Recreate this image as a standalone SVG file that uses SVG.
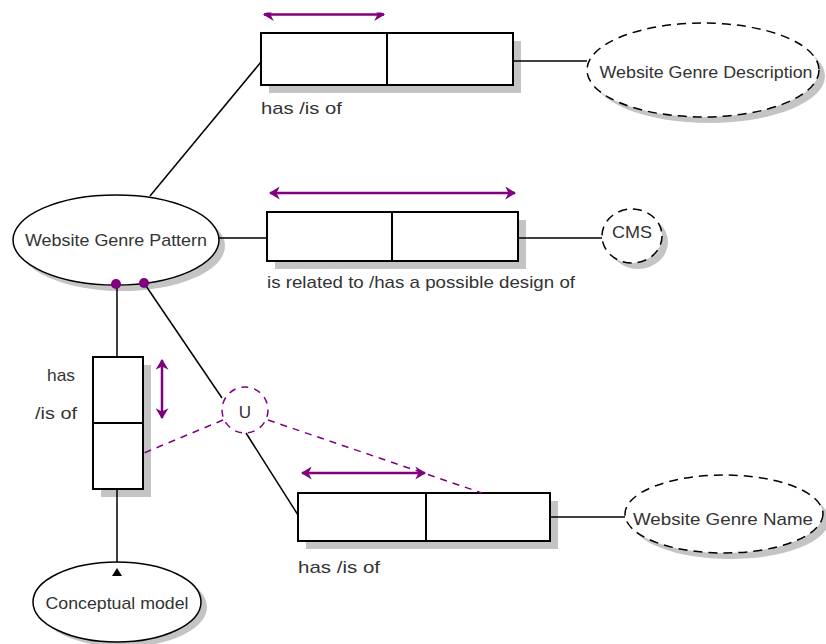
<svg xmlns="http://www.w3.org/2000/svg" width="826" height="644" viewBox="0 0 826 644">
<defs>
<style>
.sh{fill:#c4c4c4;stroke:none}
.box{fill:#fff;stroke:#000;stroke-width:2}
.ent{fill:#fff;stroke:#000;stroke-width:1.5}
.dash{fill:#fff;stroke:#000;stroke-width:1.5;stroke-dasharray:9 6}
.ln{stroke:#000;stroke-width:1.5;fill:none}
.pd{stroke:#800080;stroke-width:1.5;fill:none;stroke-dasharray:7 6}
.arr{stroke:#800080;stroke-width:2.5;fill:none;marker-start:url(#ah);marker-end:url(#ah)}
text{font-family:"Liberation Sans",Arial,sans-serif;font-size:17px;fill:#333}
.c{text-anchor:middle}
.e{text-anchor:end}
</style>
<marker id="ah" viewBox="0 0 10 12" refX="9" refY="6" markerWidth="11" markerHeight="13" markerUnits="userSpaceOnUse" orient="auto-start-reverse">
<path d="M0,0 L10,6 L0,12 L3,6 Z" fill="#800080"/>
</marker>
<clipPath id="topclip"><rect x="0" y="12.5" width="826" height="40"/></clipPath>
</defs>

<g id="rel-description">
<rect class="sh" x="269" y="41" width="252" height="52"/>
<rect class="box" x="261" y="33" width="126" height="52"/>
<rect class="box" x="387" y="33" width="126" height="52"/>
<g clip-path="url(#topclip)"><line class="arr" x1="264" y1="14.5" x2="384" y2="14.5"/></g>
<text x="261" y="114" textLength="81" lengthAdjust="spacingAndGlyphs">has /is of</text>
</g>

<g id="rel-cms">
<rect class="sh" x="275" y="220" width="251" height="49"/>
<rect class="box" x="267" y="212" width="125" height="49"/>
<rect class="box" x="392" y="212" width="126" height="49"/>
<line class="arr" x1="270" y1="193" x2="515" y2="193"/>
<text x="267" y="288" textLength="308" lengthAdjust="spacingAndGlyphs">is related to /has a possible design of</text>
</g>

<g id="rel-conceptual">
<rect class="sh" x="101" y="365" width="50" height="132"/>
<rect class="box" x="93" y="357" width="50" height="66"/>
<rect class="box" x="93" y="423" width="50" height="66"/>
<line class="arr" x1="162" y1="360" x2="162" y2="418"/>
<text class="e" x="75" y="381" textLength="28" lengthAdjust="spacingAndGlyphs">has</text>
<text class="e" x="77" y="419" textLength="42" lengthAdjust="spacingAndGlyphs">/is of</text>
</g>

<g id="rel-name">
<rect class="sh" x="306" y="501" width="252" height="48"/>
<rect class="box" x="298" y="493" width="128" height="48"/>
<rect class="box" x="426" y="493" width="124" height="48"/>
<line class="arr" x1="302" y1="473" x2="425" y2="473"/>
<text x="298" y="573" textLength="82" lengthAdjust="spacingAndGlyphs">has /is of</text>
</g>

<g id="website-genre-pattern">
<ellipse class="sh" cx="122" cy="246" rx="103" ry="45"/>
<ellipse class="ent" cx="116" cy="240" rx="103" ry="45"/>
<text class="c" x="116" y="246" textLength="182" lengthAdjust="spacingAndGlyphs">Website Genre Pattern</text>
</g>

<g id="website-genre-description">
<ellipse class="sh" cx="709" cy="76" rx="116" ry="47"/>
<ellipse class="dash" cx="703" cy="70" rx="116" ry="47"/>
<text class="c" x="706" y="78" textLength="213" lengthAdjust="spacingAndGlyphs">Website Genre Description</text>
</g>

<g id="cms">
<ellipse class="sh" cx="638" cy="242" rx="30" ry="27"/>
<ellipse class="dash" cx="632" cy="236" rx="30" ry="27"/>
<text class="c" x="632" y="238" textLength="40" lengthAdjust="spacingAndGlyphs">CMS</text>
</g>

<g id="website-genre-name">
<ellipse class="sh" cx="730" cy="520" rx="99" ry="39"/>
<ellipse class="dash" cx="724" cy="514" rx="99" ry="39"/>
<text class="c" x="723" y="525" textLength="180" lengthAdjust="spacingAndGlyphs">Website Genre Name</text>
</g>

<g id="conceptual-model">
<ellipse class="sh" cx="123" cy="607" rx="84" ry="40"/>
<ellipse class="ent" cx="117" cy="602" rx="84" ry="40"/>
<text class="c" x="117" y="609" textLength="143" lengthAdjust="spacingAndGlyphs">Conceptual model</text>
</g>

<g id="union">
<circle cx="245" cy="410" r="23" fill="#fff" stroke="#800080" stroke-width="1.5" stroke-dasharray="7 6"/>
<text class="c" x="245" y="418">U</text>
</g>

<g id="connectors">
<line class="ln" x1="261" y1="62" x2="150" y2="196"/>
<line class="ln" x1="513" y1="61" x2="587" y2="61"/>
<line class="ln" x1="218" y1="238" x2="267" y2="238"/>
<line class="ln" x1="518" y1="238" x2="602" y2="238"/>
<line class="ln" x1="117" y1="285" x2="117" y2="357"/>
<line class="ln" x1="117" y1="489" x2="117" y2="562"/>
<line class="ln" x1="144" y1="283" x2="222" y2="398"/>
<line class="ln" x1="246" y1="433" x2="298" y2="515"/>
<line class="ln" x1="550" y1="517" x2="625" y2="517"/>
<line class="pd" x1="223" y1="420" x2="144" y2="453"/>
<line class="pd" x1="268" y1="420" x2="482" y2="493"/>
<circle cx="116" cy="284" r="5" fill="#800080"/>
<circle cx="144" cy="283" r="5" fill="#800080"/>
<path d="M117,568 L122,576 L112,576 Z" fill="#000"/>
</g>
</svg>
